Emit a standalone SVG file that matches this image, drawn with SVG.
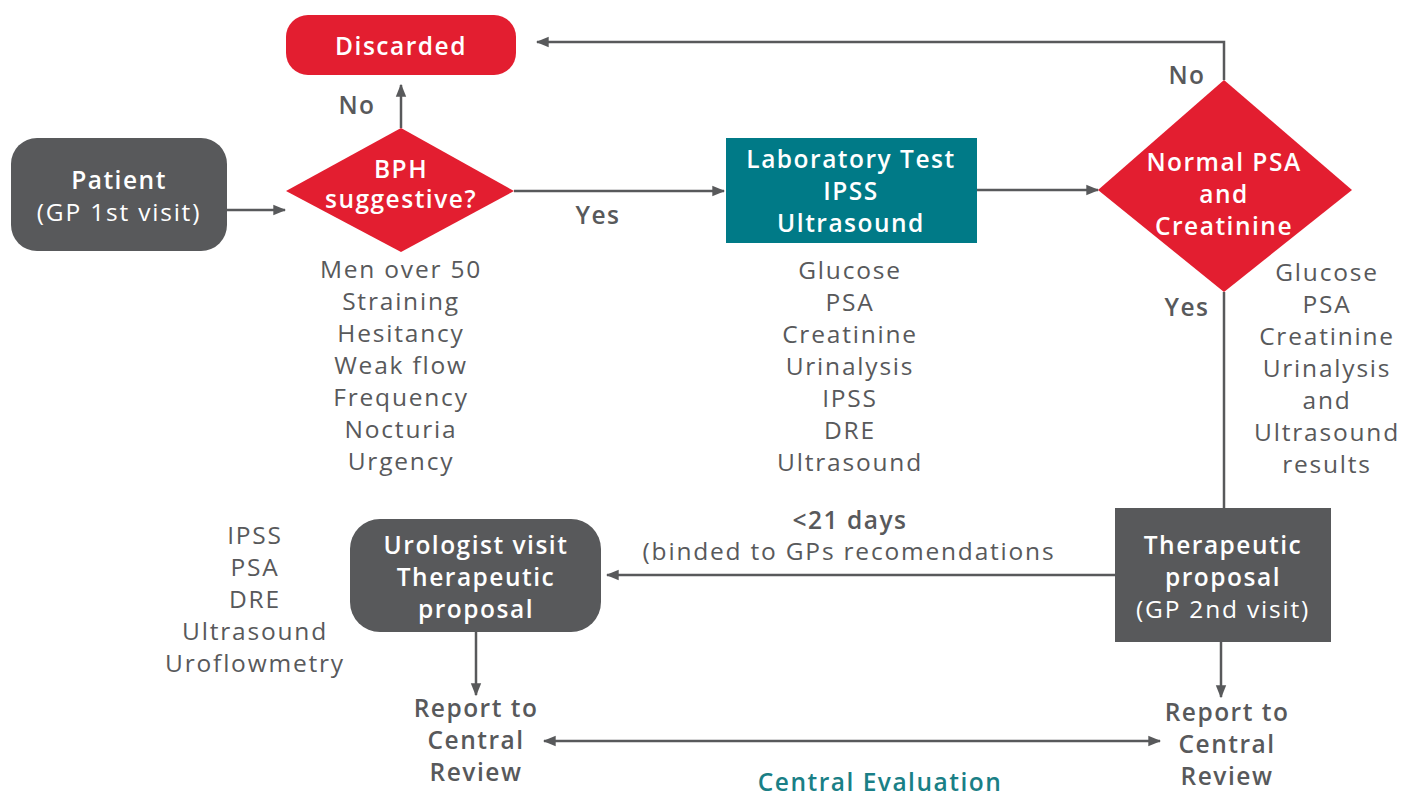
<svg xmlns="http://www.w3.org/2000/svg" width="1402" height="796" viewBox="0 0 1402 796">
<style>
text{font-family:"Open Sans","DejaVu Sans",sans-serif;text-anchor:middle;font-size:24.5px}
.w{fill:#fff;font-weight:600;letter-spacing:1.5px}
.wr{fill:#fff;letter-spacing:1.8px}
.g{fill:#58595b;letter-spacing:1.8px}
.gb{fill:#58595b;font-weight:600;letter-spacing:1.5px}
.t{fill:#1a7f86;font-weight:600;letter-spacing:1.5px}
.ln{stroke:#58595b;stroke-width:2.5;fill:none}
</style>
<defs>
<marker id="ah" viewBox="0 0 10 10" refX="9" refY="5" markerWidth="13" markerHeight="13" orient="auto-start-reverse" markerUnits="userSpaceOnUse">
<path d="M0,1 L10,5 L0,9 z" fill="#58595b"/>
</marker>
</defs>
<g id="connectors">
<line class="ln" x1="227" y1="210" x2="285" y2="210" marker-end="url(#ah)"/>
<line class="ln" x1="401" y1="128" x2="401" y2="85" marker-end="url(#ah)"/>
<line class="ln" x1="514" y1="191" x2="724" y2="191" marker-end="url(#ah)"/>
<line class="ln" x1="977" y1="190" x2="1098" y2="190" marker-end="url(#ah)"/>
<polyline class="ln" points="1224,80 1224,42 537,42" marker-end="url(#ah)"/>
<line class="ln" x1="1224" y1="292" x2="1224" y2="508"/>
<line class="ln" x1="1115" y1="575" x2="607" y2="575" marker-end="url(#ah)"/>
<line class="ln" x1="476" y1="632" x2="476" y2="695" marker-end="url(#ah)"/>
<line class="ln" x1="1221" y1="642" x2="1221" y2="697" marker-end="url(#ah)"/>
<line class="ln" x1="544" y1="741" x2="1160" y2="741" marker-start="url(#ah)" marker-end="url(#ah)"/>
<text class="gb" x="357" y="114">No</text>
<text class="gb" x="598" y="224">Yes</text>
<text class="gb" x="1187" y="84">No</text>
<text class="gb" x="1187" y="316">Yes</text>
<text class="gb" x="850" y="529">&lt;21 days</text>
<text class="g" x="849" y="560">(binded to GPs recomendations</text>
</g>
<g id="discarded">
<rect x="286" y="15" width="230" height="60" rx="22" fill="#e31e30"/>
<text class="w" x="401" y="55">Discarded</text>
</g>
<g id="patient">
<rect x="11" y="138" width="216" height="113" rx="26" fill="#58595b"/>
<text class="w" x="119" y="189">Patient</text>
<text class="wr" x="119" y="221">(GP 1st visit)</text>
</g>
<g id="bph">
<polygon points="286,191 401,128 514,191 401,252" fill="#e31e30"/>
<text class="w" x="401" y="178">BPH</text>
<text class="w" x="401" y="208">suggestive?</text>
</g>
<g id="bph-notes">
<text class="g" x="401" y="278">Men over 50</text>
<text class="g" x="401" y="310">Straining</text>
<text class="g" x="401" y="342">Hesitancy</text>
<text class="g" x="401" y="374">Weak flow</text>
<text class="g" x="401" y="406">Frequency</text>
<text class="g" x="401" y="438">Nocturia</text>
<text class="g" x="401" y="470">Urgency</text>
</g>
<g id="lab">
<rect x="726" y="138" width="251" height="105" fill="#007a87"/>
<text class="w" x="851" y="168">Laboratory Test</text>
<text class="w" x="851" y="200">IPSS</text>
<text class="w" x="851" y="232">Ultrasound</text>
</g>
<g id="lab-notes">
<text class="g" x="850" y="279">Glucose</text>
<text class="g" x="850" y="311">PSA</text>
<text class="g" x="850" y="343">Creatinine</text>
<text class="g" x="850" y="375">Urinalysis</text>
<text class="g" x="850" y="407">IPSS</text>
<text class="g" x="850" y="439">DRE</text>
<text class="g" x="850" y="471">Ultrasound</text>
</g>
<g id="normal">
<polygon points="1098,190 1224,80 1352,190 1224,292" fill="#e31e30"/>
<text class="w" x="1224" y="171">Normal PSA</text>
<text class="w" x="1224" y="203">and</text>
<text class="w" x="1224" y="235">Creatinine</text>
</g>
<g id="normal-notes">
<text class="g" x="1327" y="281">Glucose</text>
<text class="g" x="1327" y="313">PSA</text>
<text class="g" x="1327" y="345">Creatinine</text>
<text class="g" x="1327" y="377">Urinalysis</text>
<text class="g" x="1327" y="409">and</text>
<text class="g" x="1327" y="441">Ultrasound</text>
<text class="g" x="1327" y="473">results</text>
</g>
<g id="therapeutic">
<rect x="1115" y="508" width="216" height="134" fill="#58595b"/>
<text class="w" x="1223" y="554">Therapeutic</text>
<text class="w" x="1223" y="586">proposal</text>
<text class="wr" x="1223" y="618">(GP 2nd visit)</text>
</g>
<g id="urologist">
<rect x="350" y="519" width="251" height="113" rx="30" fill="#58595b"/>
<text class="w" x="476" y="554">Urologist visit</text>
<text class="w" x="476" y="586">Therapeutic</text>
<text class="w" x="476" y="618">proposal</text>
</g>
<g id="urologist-notes">
<text class="g" x="255" y="544">IPSS</text>
<text class="g" x="255" y="576">PSA</text>
<text class="g" x="255" y="608">DRE</text>
<text class="g" x="255" y="640">Ultrasound</text>
<text class="g" x="255" y="672">Uroflowmetry</text>
</g>
<g id="report-left">
<text class="gb" x="476" y="717">Report to</text>
<text class="gb" x="476" y="749">Central</text>
<text class="gb" x="476" y="781">Review</text>
</g>
<g id="report-right">
<text class="gb" x="1227" y="721">Report to</text>
<text class="gb" x="1227" y="753">Central</text>
<text class="gb" x="1227" y="785">Review</text>
</g>
<g id="central-eval">
<text class="t" x="880" y="791">Central Evaluation</text>
</g>
</svg>
